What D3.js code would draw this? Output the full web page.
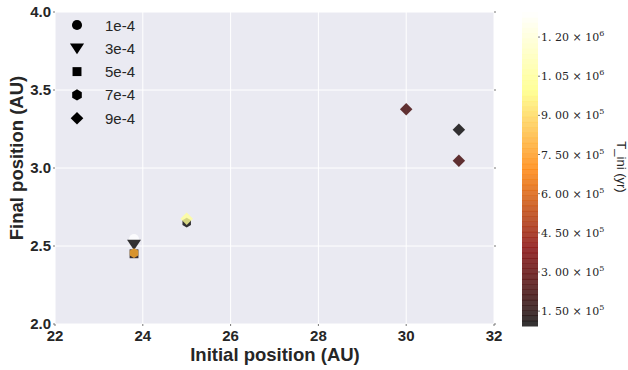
<!DOCTYPE html>
<html>
<head>
<meta charset="utf-8">
<script src="https://cdn.jsdelivr.net/npm/d3@7"></script>
<style>
  body { margin: 0; background: #fff; }
  svg { display: block; }
</style>
</head>
<body>
<div id="chart"></div>
<script>
// legend entries (alpha values) and their marker shapes
const alphas = ['1e-4', '3e-4', '5e-4', '7e-4', '9e-4'];
const shapes = ['circle', 'triangleDown', 'square', 'hexagon', 'diamond'];

// points per alpha: initial position, final position, T_ini
const initPos = [[23.8], [23.8], [23.8], [23.8, 25.0], [25.0, 30.0, 31.2, 31.2]];
const finalPos = [[2.545], [2.51], [2.45], [2.455, 2.65], [2.675, 3.376, 3.245, 3.047]];
const tIni = [[1.30e6], [1.0e5], [1.2e5], [8.0e5, 1.0e5], [1.05e6, 2.35e5, 1.0e5, 2.35e5]];

const xTicks = [22, 24, 26, 28, 30, 32];
const yTicks = [2.0, 2.5, 3.0, 3.5, 4.0];
const cbTicks = [1.5e5, 3.0e5, 4.5e5, 6.0e5, 7.5e5, 9.0e5, 1.05e6, 1.2e6];
const tMin = 9.3e4, tMax = 1.296e6;

const W = 628, H = 370;
const plot = { left: 55, right: 494, top: 12, bottom: 324 };
const cb = { left: 522, width: 16, top: 12, bottom: 326 };

const svg = d3.select('#chart').append('svg')
  .attr('width', W)
  .attr('height', H);

const x = d3.scaleLinear().domain([22, 32]).range([plot.left, plot.right]);
const y = d3.scaleLinear().domain([2, 4]).range([plot.bottom, plot.top]);

// afmhot colormap
function afmhot(t) {
  const c = v => Math.round(255 * Math.max(0, Math.min(1, v)));
  return d3.rgb(c(2 * t), c(2 * t - 0.5), c(2 * t - 1));
}
const norm = d3.scaleLinear().domain([tMin, tMax]).range([0, 1]).clamp(true);
const color = v => afmhot(norm(v));

// hexagon symbol (pointy top)
const hexagon = {
  draw(ctx, size) {
    const r = Math.sqrt(size / (1.5 * Math.sqrt(3)));
    for (let i = 0; i < 6; i++) {
      const a = Math.PI / 3 * i - Math.PI / 2;
      if (i === 0) ctx.moveTo(r * Math.cos(a), r * Math.sin(a));
      else ctx.lineTo(r * Math.cos(a), r * Math.sin(a));
    }
    ctx.closePath();
  }
};
const triangleDown = {
  draw(ctx, size) {
    const r = Math.sqrt(size / 1.3);
    ctx.moveTo(-r * 0.9, -r * 0.6);
    ctx.lineTo(r * 0.9, -r * 0.6);
    ctx.lineTo(0, r * 0.75);
    ctx.closePath();
  }
};
const diamond = {
  draw(ctx, size) {
    const r = Math.sqrt(size / 2);
    ctx.moveTo(0, -r);
    ctx.lineTo(r, 0);
    ctx.lineTo(0, r);
    ctx.lineTo(-r, 0);
    ctx.closePath();
  }
};
const symbolTypes = {
  circle: d3.symbolCircle,
  triangleDown: triangleDown,
  square: d3.symbolSquare,
  hexagon: hexagon,
  diamond: diamond
};
const sym = (shape, size) => d3.symbol().type(symbolTypes[shape]).size(size)();

// ---- plot background + grid ----
svg.append('rect')
  .attr('x', plot.left).attr('y', plot.top)
  .attr('width', plot.right - plot.left)
  .attr('height', plot.bottom - plot.top)
  .attr('fill', '#eaeaf2');

svg.append('g').selectAll('line').data(xTicks).join('line')
  .attr('x1', d => x(d)).attr('x2', d => x(d))
  .attr('y1', plot.top).attr('y2', plot.bottom)
  .attr('stroke', '#fff').attr('stroke-width', 1);

svg.append('g').selectAll('line').data(yTicks).join('line')
  .attr('x1', plot.left).attr('x2', plot.right)
  .attr('y1', d => y(d)).attr('y2', d => y(d))
  .attr('stroke', '#fff').attr('stroke-width', 1);

// tiny tick marks on the frame
const tickG = svg.append('g').attr('stroke', '#777').attr('stroke-width', 1);
yTicks.forEach(v => {
  tickG.append('line').attr('x1', plot.left - 2).attr('x2', plot.left).attr('y1', y(v)).attr('y2', y(v));
  tickG.append('line').attr('x1', plot.right).attr('x2', plot.right + 2).attr('y1', y(v)).attr('y2', y(v));
});
xTicks.forEach(v => {
  tickG.append('line').attr('x1', x(v)).attr('x2', x(v)).attr('y1', plot.bottom).attr('y2', plot.bottom + 2);
});

// ---- tick labels ----
svg.append('g').selectAll('text').data(xTicks).join('text')
  .attr('x', d => x(d)).attr('y', plot.bottom + 17)
  .attr('text-anchor', 'middle')
  .attr('font-family', 'Liberation Sans, Arial, sans-serif')
  .attr('font-size', 15).attr('font-weight', 'bold')
  .attr('fill', '#262626')
  .text(d => d);

svg.append('g').selectAll('text').data(yTicks).join('text')
  .attr('x', plot.left - 4).attr('y', d => y(d) + 5)
  .attr('text-anchor', 'end')
  .attr('font-family', 'Liberation Sans, Arial, sans-serif')
  .attr('font-size', 15).attr('font-weight', 'bold')
  .attr('fill', '#262626')
  .text(d => d.toFixed(1));

// axis titles
svg.append('text')
  .attr('x', 275).attr('y', 361)
  .attr('text-anchor', 'middle')
  .attr('font-family', 'Liberation Sans, Arial, sans-serif')
  .attr('font-size', 18.5).attr('font-weight', 'bold')
  .attr('fill', '#262626')
  .text('Initial position (AU)');

svg.append('text')
  .attr('transform', `translate(23,158) rotate(-90)`)
  .attr('text-anchor', 'middle')
  .attr('font-family', 'Liberation Sans, Arial, sans-serif')
  .attr('font-size', 18.5).attr('font-weight', 'bold')
  .attr('fill', '#262626')
  .text('Final position (AU)');

// ---- points ----
const points = [];
alphas.forEach((a, i) => {
  initPos[i].forEach((xv, j) => {
    points.push({ shape: shapes[i], x: xv, y: finalPos[i][j], t: tIni[i][j] });
  });
});

svg.append('g').selectAll('path').data(points).join('path')
  .attr('transform', d => `translate(${x(d.x)},${y(d.y)})`)
  .attr('d', d => sym(d.shape, d.shape === 'hexagon' ? 62 : 78))
  .attr('fill', d => color(d.t))
  .attr('fill-opacity', 0.8);

// ---- legend ----
const leg = svg.append('g');
alphas.forEach((a, i) => {
  const ly = 25 + i * 23.3;
  leg.append('path')
    .attr('transform', `translate(77,${ly})`)
    .attr('d', sym(shapes[i], 80))
    .attr('fill', '#000');
  leg.append('text')
    .attr('x', 105).attr('y', ly + 5.5)
    .attr('font-family', 'Liberation Sans, Arial, sans-serif')
    .attr('font-size', 15)
    .attr('fill', '#262626')
    .text(a);
});

// ---- colorbar ----
const cbScale = d3.scaleLinear().domain([tMin, tMax]).range([cb.bottom, cb.top]);
const nStrips = 60;
const strips = d3.range(nStrips).map(i => tMin + (tMax - tMin) * (i + 0.5) / nStrips);
const stripH = (cb.bottom - cb.top) / nStrips;
svg.append('g').selectAll('rect').data(strips).join('rect')
  .attr('x', cb.left)
  .attr('y', d => cbScale(d) - stripH / 2)
  .attr('width', cb.width)
  .attr('height', stripH + 0.5)
  .attr('fill', d => color(d))
  .attr('fill-opacity', 0.8);

const cbG = svg.append('g');
cbTicks.forEach(v => {
  const ty = cbScale(v);
  cbG.append('line')
    .attr('x1', cb.left + cb.width).attr('x2', cb.left + cb.width + 2)
    .attr('y1', ty).attr('y2', ty)
    .attr('stroke', '#777');
  const exp = Math.floor(Math.log10(v));
  const mant = (v / Math.pow(10, exp)).toFixed(2);
  const t = cbG.append('text')
    .attr('x', cb.left + cb.width + 3).attr('y', ty + 4)
    .attr('font-family', 'DejaVu Serif, Liberation Serif, serif')
    .attr('font-size', 11)
    .attr('fill', '#262626');
  t.append('tspan').text(`${mant.replace('.', '. ')} \u00d7 10`);
  t.append('tspan').attr('dy', -5).attr('font-size', 8).text(exp);
});

svg.append('text')
  .attr('transform', `translate(617,167) rotate(90)`)
  .attr('text-anchor', 'middle')
  .attr('font-family', 'Liberation Sans, Arial, sans-serif')
  .attr('font-size', 13)
  .attr('fill', '#262626')
  .text('T_ini (yr)');
</script>
</body>
</html>
